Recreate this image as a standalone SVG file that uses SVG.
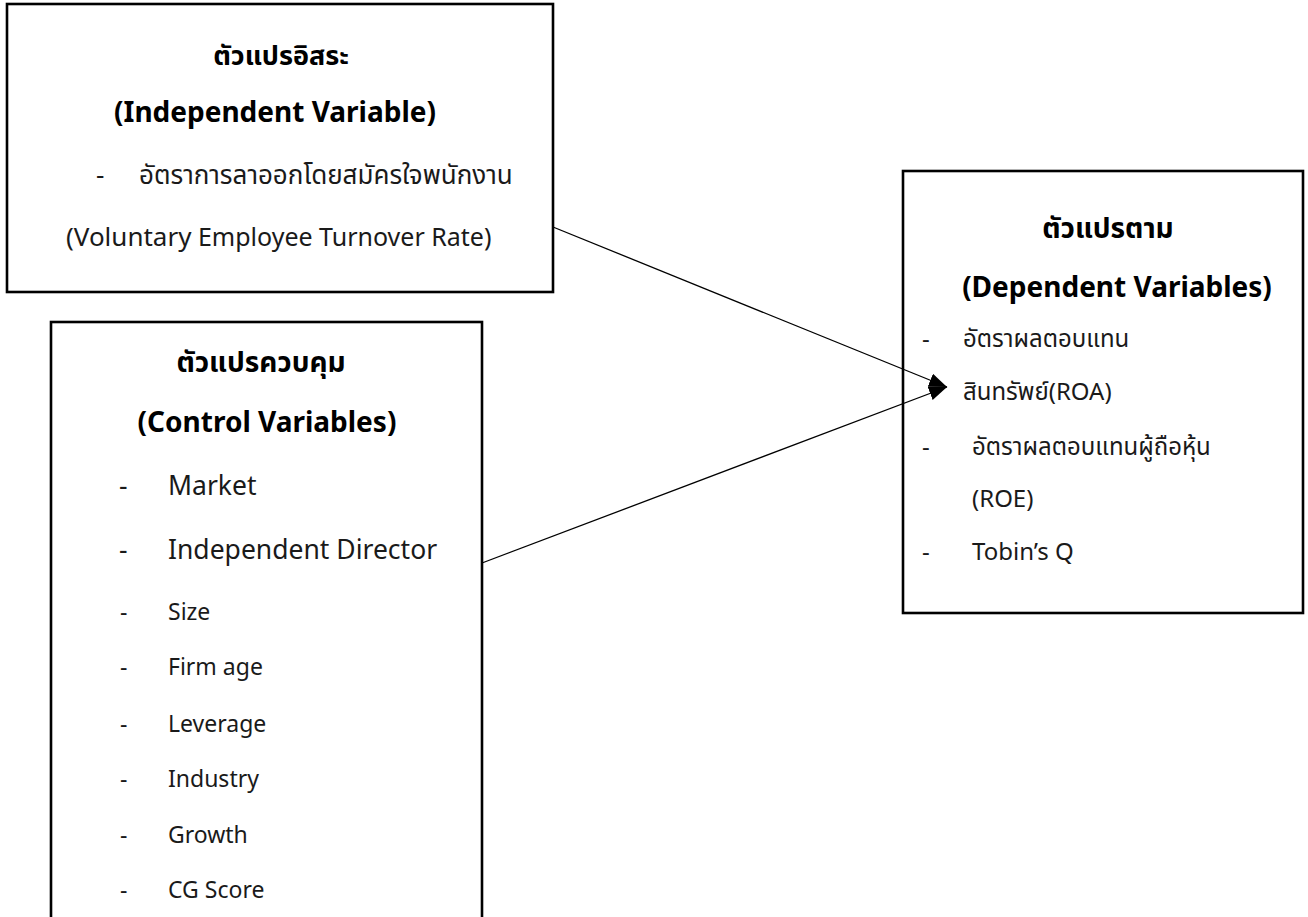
<svg xmlns="http://www.w3.org/2000/svg" width="1308" height="917" viewBox="0 0 1308 917">
<style>
  .box { fill: #ffffff; stroke: #000000; stroke-width: 2.6; }
  text { font-family: "Noto Sans", "Noto Sans Thai", "DejaVu Sans", sans-serif; fill: #1a1a1a; }
  .title { font-weight: bold; text-anchor: middle; fill: #000; }
  .thai { font-size: 26px; }
  .big { font-size: 26.5px; }
  .small { font-size: 23px; }
  .dep { font-size: 24px; }
  .conn { stroke: #000; stroke-width: 1.3; fill: none; }
</style>
<defs>
  <marker id="arrow" markerWidth="18" markerHeight="14" refX="18" refY="7" orient="auto" markerUnits="userSpaceOnUse">
    <path d="M0,0 L18,7 L0,14 Z" fill="#000"/>
  </marker>
</defs>
<rect width="1308" height="917" fill="#ffffff"/>

<g id="independent">
  <rect class="box" x="7" y="4" width="546" height="288"/>
  <text class="title" x="281" y="65" font-size="27">ตัวแปรอิสระ</text>
  <text class="title" x="275" y="122" font-size="28">(Independent Variable)</text>
  <text class="thai" x="96" y="184">-</text>
  <text class="thai" x="139" y="184">อัตราการลาออกโดยสมัครใจพนักงาน</text>
  <text x="66" y="246" font-size="25"><tspan font-size="26">(Voluntary</tspan> Employee Turnover Rate)</text>
</g>

<g id="control">
  <rect class="box" x="51" y="322" width="431" height="620"/>
  <text class="title" x="261" y="372" font-size="28">ตัวแปรควบคุม</text>
  <text class="title" x="267" y="432" font-size="28">(Control Variables)</text>
  <text class="big" x="119" y="495">-</text>
  <text class="big" x="168" y="495">Market</text>
  <text class="big" x="119" y="559">-</text>
  <text class="big" x="168" y="559">Independent Director</text>
  <text class="small" x="120" y="620">-</text>
  <text class="small" x="168" y="620">Size</text>
  <text class="small" x="120" y="675">-</text>
  <text class="small" x="168" y="675">Firm age</text>
  <text class="small" x="120" y="732">-</text>
  <text class="small" x="168" y="732">Leverage</text>
  <text class="small" x="120" y="787">-</text>
  <text class="small" x="168" y="787">Industry</text>
  <text class="small" x="120" y="843">-</text>
  <text class="small" x="168" y="843">Growth</text>
  <text class="small" x="120" y="898">-</text>
  <text class="small" x="168" y="898">CG Score</text>
</g>

<g id="dependent">
  <rect class="box" x="903" y="171" width="400" height="442"/>
  <text class="title" x="1108" y="238" font-size="28">ตัวแปรตาม</text>
  <text class="title" x="1117" y="297" font-size="28">(Dependent Variables)</text>
  <text class="dep" x="922" y="347">-</text>
  <text class="dep" x="963" y="347" font-size="25.5">อัตราผลตอบแทน</text>
  <text class="dep" x="963" y="400">สินทรัพย์(ROA)</text>
  <text class="dep" x="922" y="455">-</text>
  <text class="dep" x="972" y="455" font-size="25.5">อัตราผลตอบแทนผู้ถือหุ้น</text>
  <text class="dep" x="972" y="507">(ROE)</text>
  <text class="dep" x="922" y="560">-</text>
  <text class="dep" x="972" y="560">Tobin’s Q</text>
</g>

<g id="connectors">
  <line class="conn" x1="553" y1="227" x2="947" y2="387" marker-end="url(#arrow)"/>
  <line class="conn" x1="482" y1="563" x2="947" y2="387" marker-end="url(#arrow)"/>
</g>
</svg>
